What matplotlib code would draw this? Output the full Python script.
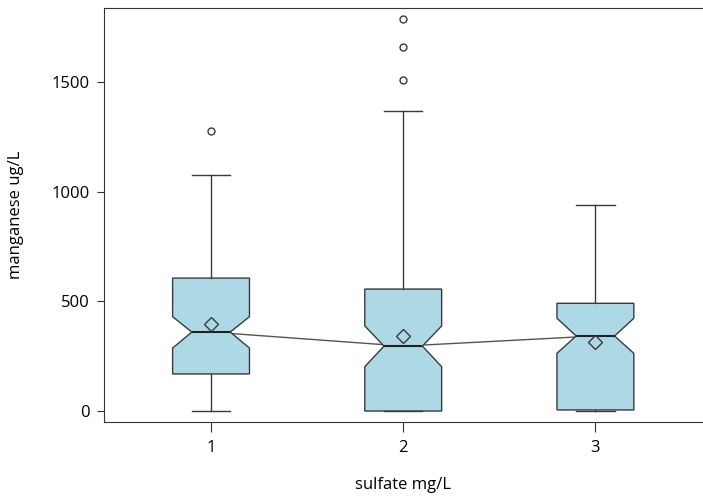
import matplotlib.pyplot as plt
import numpy as np

# values
groups = ['1', '2', '3']
medians = [360, 296, 342]
q1s = [169, 0, 5]
q3s = [606, 556, 491]
notch_lo = [287, 202, 263]
notch_hi = [430, 388, 423]
whisk_lo = [0, 0, 0]
whisk_hi = [1076, 1369, 938]
means = [397, 343, 315]
outliers = [[1277], [1509, 1657, 1787], []]

plt.rcParams['font.family'] = ['Open Sans', 'DejaVu Sans']

stats = []
for i, g in enumerate(groups):
    stats.append({
        'label': g, 'med': medians[i], 'q1': q1s[i], 'q3': q3s[i],
        'cilo': notch_lo[i], 'cihi': notch_hi[i],
        'whislo': whisk_lo[i], 'whishi': whisk_hi[i],
        'mean': means[i], 'fliers': outliers[i],
    })

fig = plt.figure(figsize=(7.03, 4.97), dpi=100)
ax = fig.add_axes([104 / 703, 75 / 497, 599 / 703, 414 / 497])

pos = np.arange(1, len(groups) + 1)

# line joining the medians, behind the boxes
ax.plot(pos, medians, color='#555555', lw=1, zorder=1)

edge = '#3a3a3a'
ax.bxp(stats, positions=pos, widths=0.4, shownotches=True, showmeans=True,
       patch_artist=True,
       boxprops=dict(facecolor='#add8e6', edgecolor=edge, lw=1),
       medianprops=dict(color='#222222', lw=1.5),
       whiskerprops=dict(color=edge, lw=1),
       capprops=dict(color=edge, lw=1),
       flierprops=dict(marker='o', markersize=5, markerfacecolor='none',
                       markeredgecolor=edge, markeredgewidth=1),
       meanprops=dict(marker='D', markersize=7, markerfacecolor='none',
                      markeredgecolor=edge, markeredgewidth=1))

ax.set_xlim(0.443, 3.56)
ax.set_ylim(-50, 1837)
ax.set_yticks([0, 500, 1000, 1500])
ax.set_xticks(pos)
ax.set_xticklabels(groups)

for s in ax.spines.values():
    s.set_color('#333333')
ax.spines['right'].set_visible(False)

ax.tick_params(axis='y', length=5, color='#333333', labelsize=12, pad=5)
ax.tick_params(axis='x', length=7, color='#333333', labelsize=12, pad=6)

ax.set_xlabel('sulfate mg/L', fontsize=12, labelpad=15)
ax.set_ylabel('manganese ug/L', fontsize=12, labelpad=20)

fig.savefig('out.png', dpi=100)
